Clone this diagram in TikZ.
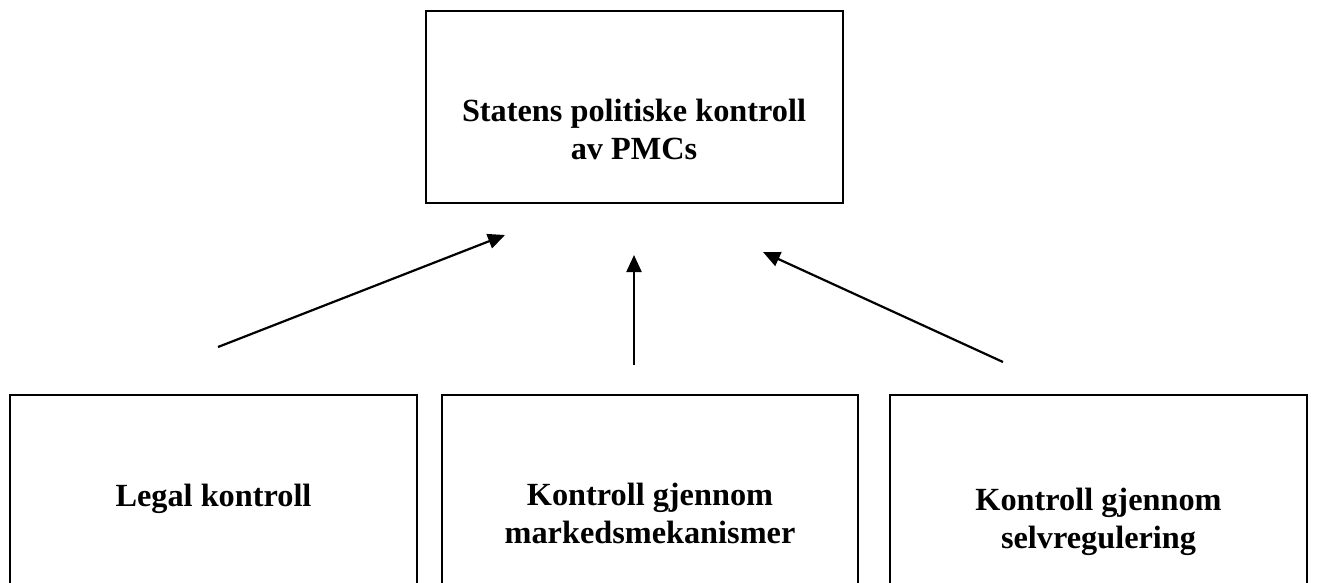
\documentclass[tikz,border=0pt]{standalone}
\usepackage{fontspec}
\setmainfont{Liberation Serif}
\usepackage{tikz}
\usetikzlibrary{arrows.meta,positioning}

\begin{document}
\begin{tikzpicture}[x=1pt,y=-1pt,
  box/.style={draw,line width=1.8pt,inner sep=0pt,outer sep=0pt,minimum height=#1},
  box/.default=220pt,
  lbl/.style={align=center,inner sep=0pt,font=\fontsize{32.3}{38}\selectfont\bfseries},
  pil/.style={-{Triangle[length=17pt,width=15pt]},line width=2.2pt}]
  \clip (0,0) rectangle (1319,582);
  \fill[white] (0,0) rectangle (1319,582);
  % top box
  \node[box=192pt,minimum width=417pt] (stat) at (634.5,107) {};
  \node[lbl,anchor=base] (stattxt) at (634,159) {Statens politiske kontroll\\av PMCs};
  % bottom boxes
  \node[box,minimum width=407pt] (legal) at (213.5,505) {};
  \node[box,minimum width=416pt] (marked) at (650,505) {};
  \node[box,minimum width=417pt] (selv) at (1098.5,505) {};
  \node[lbl,anchor=base] (legaltxt) at (213.5,506) {Legal kontroll};
  \node[lbl,anchor=base] (markedtxt) at (650,543) {Kontroll gjennom\\markedsmekanismer};
  \node[lbl,anchor=base] (selvtxt) at (1098.5,548) {Kontroll gjennom\\selvregulering};
  % arrows
  \coordinate (legalpt) at (218,347);
  \coordinate (markedpt) at (634,365);
  \coordinate (selvpt) at (1003,362);
  \coordinate (statl) at (505,235);
  \coordinate (statm) at (634,255);
  \coordinate (statr) at (763,252);
  \draw[pil] (legalpt) -- (statl);
  \draw[pil] (markedpt) -- (statm);
  \draw[pil] (selvpt) -- (statr);
\end{tikzpicture}
\end{document}
